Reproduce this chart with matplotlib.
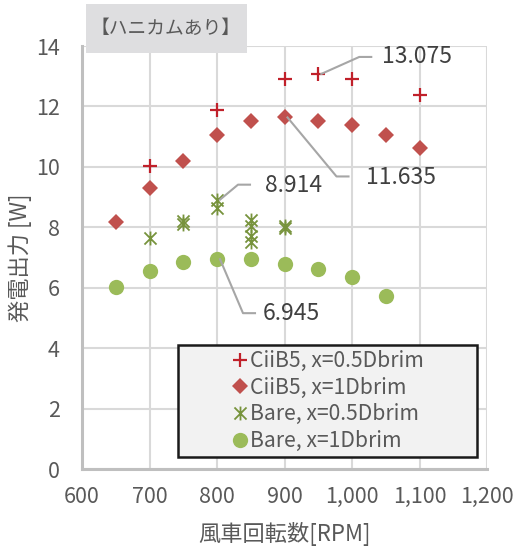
import matplotlib
matplotlib.use("Agg")
import matplotlib.pyplot as plt
from matplotlib.path import Path
from matplotlib.patches import Rectangle
from matplotlib.lines import Line2D
from matplotlib.transforms import IdentityTransform

plt.rcParams['font.family'] = ['Noto Sans CJK JP', 'DejaVu Sans']

# ---------------- data ----------------
rpm_c05 = [700, 800, 900, 950, 1000, 1100]
pow_c05 = [10.03, 11.89, 12.92, 13.075, 12.92, 12.39]

rpm_c1 = [650, 700, 750, 800, 850, 900, 950, 1000, 1050, 1100]
pow_c1 = [8.19, 9.29, 10.19, 11.05, 11.52, 11.635, 11.52, 11.38, 11.05, 10.64]

rpm_b05 = [700, 750, 750, 800, 800, 850, 850, 850, 850, 900, 900]
pow_b05 = [7.65, 8.12, 8.22, 8.914, 8.65, 8.25, 8.05, 7.7, 7.5, 8.05, 7.97]

rpm_b1 = [650, 700, 750, 800, 850, 900, 950, 1000, 1050]
pow_b1 = [6.02, 6.56, 6.84, 6.945, 6.95, 6.78, 6.61, 6.34, 5.72]

series_names = ["CiiB5, x=0.5Dbrim", "CiiB5, x=1Dbrim",
                "Bare, x=0.5Dbrim", "Bare, x=1Dbrim"]

x_ticks = [600, 700, 800, 900, 1000, 1100, 1200]
x_ticklabels = ["600", "700", "800", "900", "1,000", "1,100", "1,200"]
y_ticks = [0, 2, 4, 6, 8, 10, 12, 14]

ann_x = [950, 900, 800, 800]
ann_y = [13.075, 11.635, 8.914, 6.945]
ann_text = ["13.075", "11.635", "8.914", "6.945"]

title_text = "【ハニカムあり】"
xlabel = "風車回転数[RPM]"
ylabel = "発電出力 [W]"

# ---------------- styling ----------------
W, H = 518, 552
fig = plt.figure(figsize=(W / 100, H / 100), dpi=100)
L, R, T, B = 82, 487, 46, 469
ax = fig.add_axes([L / W, 1 - B / H, (R - L) / W, (B - T) / H])

c_plus = "#c0202a"
c_diam = "#c0504d"
c_star = "#77933c"
c_circ = "#9bbb59"
txt_c = "#595959"

star = Path([(-1, -1), (1, 1), (-1, 1), (1, -1), (0, -1.15), (0, 1.15)],
            [Path.MOVETO, Path.LINETO, Path.MOVETO, Path.LINETO,
             Path.MOVETO, Path.LINETO])

ax.plot(rpm_c05, pow_c05, ls="none", marker="+", ms=10, mew=1.6,
        color=c_plus, zorder=5, label=series_names[0])
ax.plot(rpm_c1, pow_c1, ls="none", marker="D", ms=8, mew=0,
        color=c_diam, zorder=5, label=series_names[1])
ax.plot(rpm_b05, pow_b05, ls="none", marker=star, ms=10, mew=1.3,
        color=c_star, mfc="none", zorder=5, label=series_names[2])
ax.plot(rpm_b1, pow_b1, ls="none", marker="o", ms=11, mew=0,
        color=c_circ, zorder=5, label=series_names[3])

ax.set_xlim(600, 1200)
ax.set_ylim(0, 14)
ax.set_xticks(x_ticks)
ax.set_xticklabels(x_ticklabels)
ax.set_yticks(y_ticks)
ax.grid(True, color="#d9d9d9", lw=1.5, zorder=0)
ax.set_axisbelow(True)
ax.tick_params(length=0, labelsize=15.5, colors=txt_c)
ax.tick_params(axis="x", pad=12)
ax.tick_params(axis="y", pad=16)
for s in ["top", "right"]:
    ax.spines[s].set_visible(False)
for s in ["left", "bottom"]:
    ax.spines[s].set_color("#bfbfbf")
    ax.spines[s].set_linewidth(2.2)

ax.set_xlabel(xlabel, fontsize=16, color=txt_c, labelpad=10)
ax.set_ylabel(ylabel, fontsize=16, color=txt_c, labelpad=3)

# annotations (offsets in pixels: text-left, bend point, end of horizontal)
offs = [
    (64, 17, 41, 17, 53),
    (82, -60, 52, -59, 64),
    (48, 14, 21, 15, 33),
    (46, -54, 26, -54, 38),
]
fig.canvas.draw()
for (xv, yv, t, o) in zip(ann_x, ann_y, ann_text, offs):
    px, py = ax.transData.transform((xv, yv))
    tdx, tdy, bdx, bdy, edx = o
    ln = Line2D([px + 3, px + bdx, px + edx], [py, py + bdy, py + bdy],
                transform=IdentityTransform(), color="#a6a6a6", lw=1.5,
                zorder=6)
    fig.add_artist(ln)
    fig.text((px + tdx) / W, (py + tdy) / H, t, ha="left", va="center",
             fontsize=16.5, color="#404040", zorder=7)

# legend box
fig.add_artist(Rectangle((178 / W, 1 - 457 / H), (477 - 178) / W, (457 - 345) / H,
                         transform=fig.transFigure, facecolor="#f2f2f2",
                         edgecolor="#1a1a1a", lw=1.8, zorder=8))
handles = [
    Line2D([], [], ls="none", marker="+", ms=10, mew=1.6, color=c_plus),
    Line2D([], [], ls="none", marker="D", ms=8, mew=0, color=c_diam),
    Line2D([], [], ls="none", marker=star, ms=10, mew=1.3, color=c_star),
    Line2D([], [], ls="none", marker="o", ms=11, mew=0, color=c_circ),
]
leg = fig.legend(handles, series_names, loc="center",
                 bbox_to_anchor=(327.5 / W, 1 - 401 / H), frameon=False,
                 fontsize=15.2, handlelength=0.8, handletextpad=0.05,
                 labelspacing=0.22, borderpad=0.2, labelcolor=txt_c)
leg.set_zorder(9)

# title box
fig.add_artist(Rectangle((86 / W, 1 - 53 / H), (247 - 86) / W, (53 - 4) / H,
                         transform=fig.transFigure, facecolor="#dedee0",
                         edgecolor="none", zorder=8))
fig.text(166 / W, 1 - 28 / H, title_text, ha="center", va="center",
         fontsize=13.5, color=txt_c, zorder=9)

fig.savefig("out.png", dpi=100)
